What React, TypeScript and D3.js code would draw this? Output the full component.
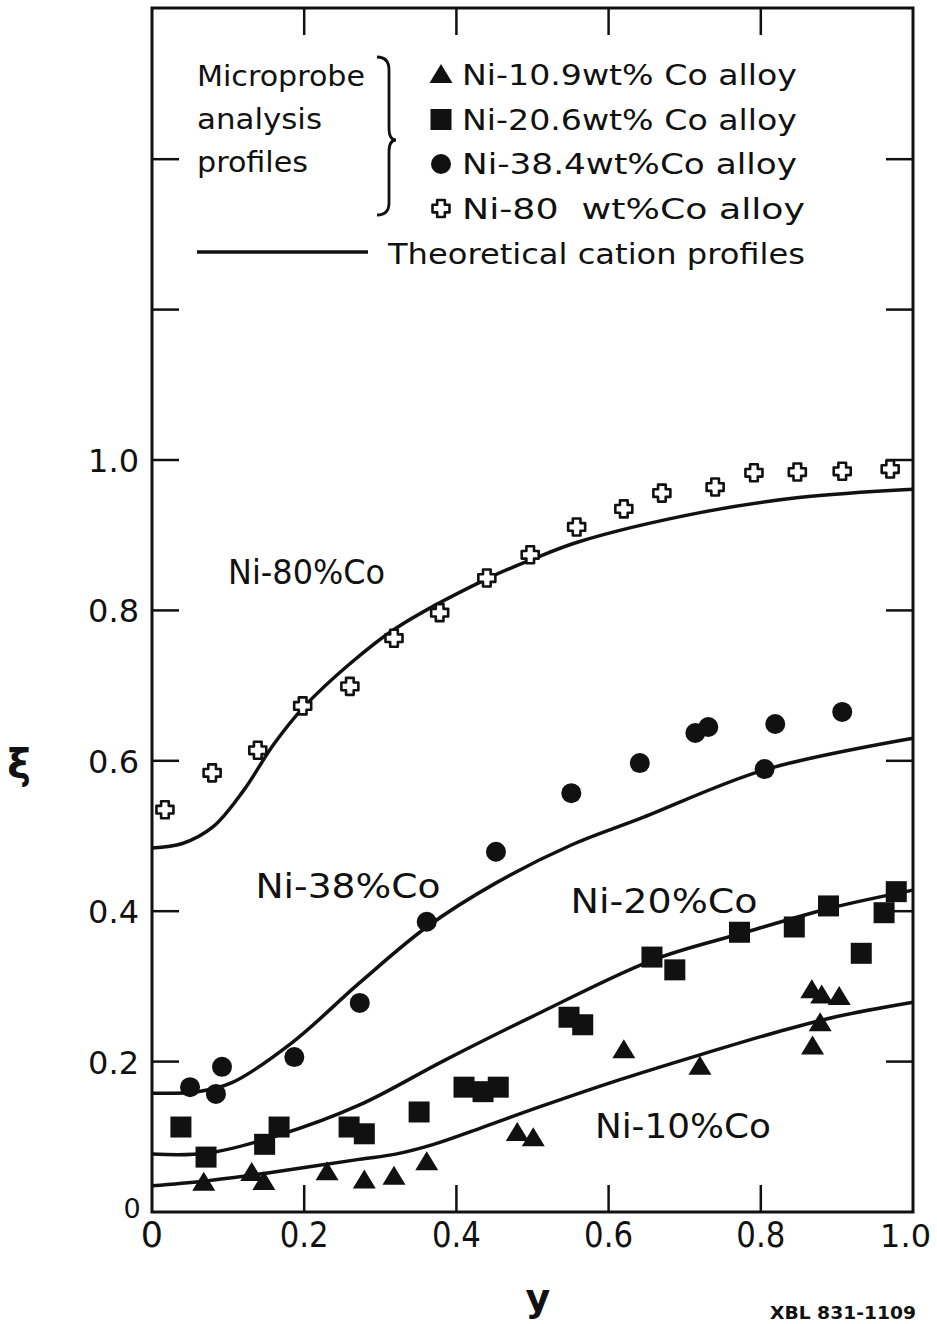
import { useEffect, useRef } from "react";
import * as d3 from "d3";

const W = 937;
const H = 1324;

// axis ticks
const xTickValues = [0, 0.2, 0.4, 0.6, 0.8, 1.0];
const xTickLabels = ["0", "0.2", "0.4", "0.6", "0.8", "1.0"];
const yTickValues = [0.2, 0.4, 0.6, 0.8, 1.0, 1.2, 1.4];
const yLabelValues = [0.2, 0.4, 0.6, 0.8, 1.0];
const yLabelText = ["0.2", "0.4", "0.6", "0.8", "1.0"];

// microprobe data (y, xi)
const ni10Points: [number, number][] = [
  [0.068, 0.039], [0.131, 0.052], [0.147, 0.040], [0.230, 0.053], [0.279, 0.042],
  [0.318, 0.047], [0.361, 0.066], [0.480, 0.105], [0.501, 0.098], [0.620, 0.215],
  [0.720, 0.193], [0.868, 0.220], [0.878, 0.251], [0.867, 0.295], [0.880, 0.288],
  [0.903, 0.286],
];
const ni20Points: [number, number][] = [
  [0.038, 0.113], [0.071, 0.073], [0.148, 0.090], [0.167, 0.113], [0.259, 0.113],
  [0.279, 0.104], [0.351, 0.133], [0.410, 0.166], [0.435, 0.160], [0.455, 0.166],
  [0.548, 0.259], [0.566, 0.249], [0.657, 0.339], [0.687, 0.322], [0.772, 0.372],
  [0.844, 0.379], [0.889, 0.407], [0.932, 0.344], [0.962, 0.398], [0.978, 0.426],
];
const ni38Points: [number, number][] = [
  [0.050, 0.166], [0.084, 0.157], [0.092, 0.193], [0.187, 0.206], [0.273, 0.278],
  [0.361, 0.386], [0.452, 0.479], [0.551, 0.557], [0.641, 0.597], [0.714, 0.637],
  [0.731, 0.645], [0.805, 0.589], [0.819, 0.649], [0.907, 0.665],
];
const ni80Points: [number, number][] = [
  [0.017, 0.535], [0.079, 0.584], [0.139, 0.614], [0.198, 0.673], [0.260, 0.699],
  [0.318, 0.763], [0.378, 0.797], [0.440, 0.843], [0.497, 0.874], [0.558, 0.911],
  [0.620, 0.935], [0.670, 0.956], [0.740, 0.964], [0.791, 0.983], [0.848, 0.984],
  [0.907, 0.985], [0.970, 0.988],
];

// theoretical cation profiles
const ni10Curve: [number, number][] = [
  [0, 0.035], [0.068, 0.041], [0.152, 0.052], [0.272, 0.070], [0.32, 0.077],
  [0.37, 0.090], [0.43, 0.111], [0.51, 0.140], [0.615, 0.176], [0.72, 0.209],
  [0.824, 0.240], [0.9, 0.260], [1.0, 0.279],
];
const ni20Curve: [number, number][] = [
  [0, 0.077], [0.071, 0.078], [0.166, 0.102], [0.272, 0.142], [0.385, 0.202],
  [0.51, 0.265], [0.658, 0.335], [0.773, 0.370], [0.891, 0.404], [1.0, 0.428],
];
const ni38Curve: [number, number][] = [
  [0, 0.158], [0.06, 0.160], [0.105, 0.172], [0.185, 0.226], [0.273, 0.305],
  [0.361, 0.379], [0.451, 0.437], [0.551, 0.488], [0.641, 0.523], [0.805, 0.588],
  [1.0, 0.630],
];
const ni80Curve: [number, number][] = [
  [0, 0.484], [0.04, 0.490], [0.08, 0.512], [0.12, 0.560], [0.16, 0.622],
  [0.2, 0.672], [0.26, 0.729], [0.32, 0.776], [0.44, 0.842], [0.5, 0.868],
  [0.56, 0.891], [0.72, 0.930], [0.85, 0.950], [1.0, 0.961],
];

const legendRows = [
  { kind: "triangle", text: "Ni-10.9wt% Co alloy", len: 335 },
  { kind: "square", text: "Ni-20.6wt% Co alloy", len: 335 },
  { kind: "circle", text: "Ni-38.4wt%Co alloy", len: 335 },
  { kind: "cross", text: "Ni-80  wt%Co alloy", len: 343 },
];

const curveLabels = [
  { text: "Ni-80%Co", x: 0.10, y: 0.835, len: 157 },
  { text: "Ni-38%Co", x: 0.136, y: 0.418, len: 185 },
  { text: "Ni-20%Co", x: 0.55, y: 0.398, len: 187 },
  { text: "Ni-10%Co", x: 0.582, y: 0.098, len: 176 },
];

const FONT = "'DejaVu Sans', sans-serif";

function crossPath(r: number) {
  const a = r * 0.45;
  return `M${-a},${-r}H${a}V${-a}H${r}V${a}H${a}V${r}H${-a}V${a}H${-r}V${-a}H${-a}Z`;
}

function drawMarker(g: any, kind: string, cx: number, cy: number) {
  if (kind === "triangle") {
    g.append("path")
      .attr("d", "M0,-11L11.5,8L-11.5,8Z")
      .attr("transform", `translate(${cx},${cy})`)
      .attr("fill", "#111");
  } else if (kind === "square") {
    g.append("rect")
      .attr("x", cx - 10.5).attr("y", cy - 10.5)
      .attr("width", 21).attr("height", 21)
      .attr("fill", "#111");
  } else if (kind === "circle") {
    g.append("circle")
      .attr("cx", cx).attr("cy", cy).attr("r", 10)
      .attr("fill", "#111");
  } else {
    g.append("path")
      .attr("d", crossPath(8.5))
      .attr("transform", `translate(${cx},${cy})`)
      .attr("fill", "white")
      .attr("stroke", "#111")
      .attr("stroke-width", 2.6)
      .attr("stroke-linejoin", "round");
  }
}

export default function App() {
  const svgRef = useRef<SVGSVGElement | null>(null);

  useEffect(() => {
    if (!svgRef.current) return;
    const svg = d3.select(svgRef.current);
    svg.selectAll("*").remove();

    const left = 152, right = 913, top = 8, bottom = 1212;
    const x = d3.scaleLinear().domain([0, 1]).range([left, right]);
    const y = d3.scaleLinear().domain([0, 1.6]).range([bottom, bottom - 1.6 * 752]);
    const ink = "#111";
    const tickLen = 27;

    svg.append("rect").attr("width", W).attr("height", H).attr("fill", "white");

    const g = svg.append("g");

    // frame
    g.append("rect")
      .attr("x", left).attr("y", top)
      .attr("width", right - left).attr("height", bottom - top)
      .attr("fill", "none").attr("stroke", ink).attr("stroke-width", 3);

    // inward ticks, all four sides
    xTickValues.slice(1, -1).forEach((v) => {
      g.append("line").attr("x1", x(v)).attr("x2", x(v))
        .attr("y1", bottom).attr("y2", bottom - tickLen)
        .attr("stroke", ink).attr("stroke-width", 2.5);
      g.append("line").attr("x1", x(v)).attr("x2", x(v))
        .attr("y1", top).attr("y2", top + tickLen)
        .attr("stroke", ink).attr("stroke-width", 2.5);
    });
    yTickValues.forEach((v) => {
      g.append("line").attr("x1", left).attr("x2", left + tickLen)
        .attr("y1", y(v)).attr("y2", y(v))
        .attr("stroke", ink).attr("stroke-width", 2.5);
      g.append("line").attr("x1", right).attr("x2", right - tickLen)
        .attr("y1", y(v)).attr("y2", y(v))
        .attr("stroke", ink).attr("stroke-width", 2.5);
    });

    // tick labels
    xTickValues.forEach((v, i) => {
      const lbl = xTickLabels[i];
      const last = lbl === "1.0";
      const t = g.append("text")
        .attr("x", last ? 931 : x(v)).attr("y", 1247)
        .attr("text-anchor", last ? "end" : "middle")
        .style("font-family", FONT).style("font-size", last ? "32px" : "35px")
        .attr("fill", ink)
        .text(lbl);
      if (lbl.length > 1 && !last) {
        t.attr("textLength", 49).attr("lengthAdjust", "spacingAndGlyphs");
      }
    });
    yLabelValues.forEach((v, i) => {
      g.append("text")
        .attr("x", 139).attr("y", y(v) + 12)
        .attr("text-anchor", "end")
        .style("font-family", FONT).style("font-size", "32px")
        .attr("fill", ink)
        .text(yLabelText[i]);
    });
    g.append("text")
      .attr("x", 132).attr("y", 1218)
      .attr("text-anchor", "middle")
      .style("font-family", FONT).style("font-size", "27px")
      .attr("fill", ink)
      .text("0");

    // axis titles
    g.append("text")
      .attr("x", 19).attr("y", 778)
      .attr("text-anchor", "middle")
      .style("font-family", FONT).style("font-size", "40px").style("font-weight", "bold")
      .attr("fill", ink)
      .text("ξ");
    g.append("text")
      .attr("x", 538).attr("y", 1311)
      .attr("text-anchor", "middle")
      .style("font-family", FONT).style("font-size", "38px").style("font-weight", "bold")
      .attr("fill", ink)
      .text("y");
    g.append("text")
      .attr("x", 770).attr("y", 1319)
      .attr("textLength", 146).attr("lengthAdjust", "spacingAndGlyphs")
      .style("font-family", FONT).style("font-size", "18px").style("font-weight", "bold")
      .attr("fill", ink)
      .text("XBL 831-1109");

    // theoretical curves
    const line = d3.line<[number, number]>()
      .x((d) => x(d[0]))
      .y((d) => y(d[1]))
      .curve(d3.curveCatmullRom.alpha(0.5));
    [ni10Curve, ni20Curve, ni38Curve, ni80Curve].forEach((c) => {
      g.append("path")
        .attr("d", line(c))
        .attr("fill", "none")
        .attr("stroke", ink)
        .attr("stroke-width", 3.5);
    });

    // data points
    const pts = g.append("g");
    ni10Points.forEach((d) => drawMarker(pts, "triangle", x(d[0]), y(d[1])));
    ni20Points.forEach((d) => drawMarker(pts, "square", x(d[0]), y(d[1])));
    ni38Points.forEach((d) => drawMarker(pts, "circle", x(d[0]), y(d[1])));
    ni80Points.forEach((d) => drawMarker(pts, "cross", x(d[0]), y(d[1])));

    // curve labels
    curveLabels.forEach((l) => {
      g.append("text")
        .attr("x", x(l.x)).attr("y", y(l.y))
        .attr("textLength", l.len).attr("lengthAdjust", "spacingAndGlyphs")
        .style("font-family", FONT).style("font-size", "33px")
        .attr("fill", ink)
        .text(l.text);
    });

    // legend
    const lg = g.append("g");
    const leftWords = [
      { t: "Microprobe", y: 86, len: 168 },
      { t: "analysis", y: 129, len: 125 },
      { t: "profiles", y: 172, len: 111 },
    ];
    leftWords.forEach((w) => {
      lg.append("text")
        .attr("x", 197).attr("y", w.y)
        .attr("textLength", w.len).attr("lengthAdjust", "spacingAndGlyphs")
        .style("font-family", FONT).style("font-size", "29px")
        .attr("fill", ink)
        .text(w.t);
    });
    // brace
    lg.append("path")
      .attr("d", "M377,57 Q389,57 389,70 L389,128 Q389,140 396,140 Q389,140 389,152 L389,203 Q389,215 377,215")
      .attr("fill", "none").attr("stroke", ink).attr("stroke-width", 2.8);

    legendRows.forEach((r, i) => {
      const cy = 75 + i * 44.5;
      drawMarker(lg, r.kind, 441, cy);
      lg.append("text")
        .attr("x", 462).attr("y", cy + 10)
        .attr("textLength", r.len).attr("lengthAdjust", "spacingAndGlyphs")
        .style("font-family", FONT).style("font-size", "29px")
        .attr("fill", ink)
        .style("white-space", "pre")
        .text(r.text);
    });
    lg.append("line")
      .attr("x1", 197).attr("x2", 368)
      .attr("y1", 252).attr("y2", 252)
      .attr("stroke", ink).attr("stroke-width", 3.5);
    lg.append("text")
      .attr("x", 388).attr("y", 264)
      .attr("textLength", 417).attr("lengthAdjust", "spacingAndGlyphs")
      .style("font-family", FONT).style("font-size", "29px")
      .attr("fill", ink)
      .text("Theoretical cation profiles");
  }, []);

  return (
    <div style={{ position: "absolute", left: 0, top: 0 }}>
      <svg ref={svgRef} width={W} height={H} />
    </div>
  );
}
